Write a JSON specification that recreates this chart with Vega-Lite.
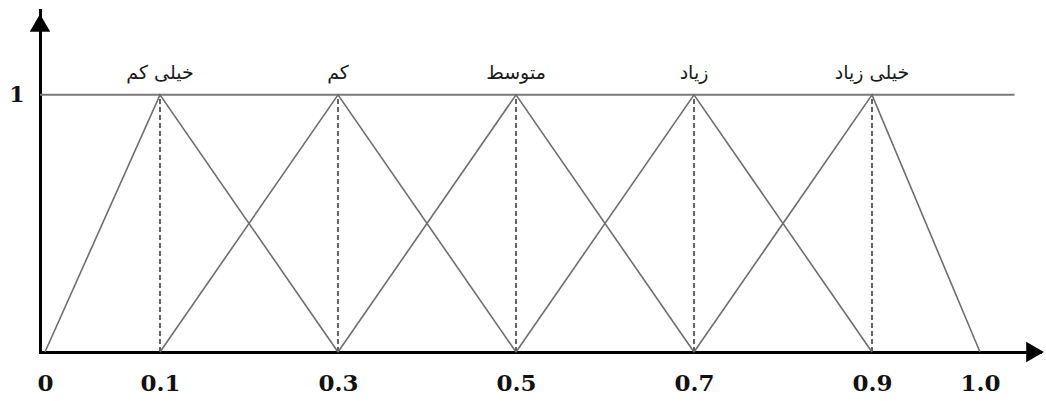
{
  "$schema": "https://vega.github.io/schema/vega-lite/v6.json",
  "width": 1000,
  "height": 342,
  "autosize": {"type": "none"},
  "padding": {"left": 40, "top": 10, "right": 6, "bottom": 49},
  "background": "white",
  "config": {"view": {"stroke": null}},
  "datasets": {
    "tri": [
      {"set": "vl", "x": 0.0, "y": 0}, {"set": "vl", "x": 0.1, "y": 1}, {"set": "vl", "x": 0.3, "y": 0},
      {"set": "l", "x": 0.1, "y": 0}, {"set": "l", "x": 0.3, "y": 1}, {"set": "l", "x": 0.5, "y": 0},
      {"set": "m", "x": 0.3, "y": 0}, {"set": "m", "x": 0.5, "y": 1}, {"set": "m", "x": 0.7, "y": 0},
      {"set": "h", "x": 0.5, "y": 0}, {"set": "h", "x": 0.7, "y": 1}, {"set": "h", "x": 0.9, "y": 0},
      {"set": "vh", "x": 0.7, "y": 0}, {"set": "vh", "x": 0.9, "y": 1}, {"set": "vh", "x": 1.0, "y": 0}
    ],
    "peaks": [
      {"x": 0.1, "label": "خیلی کم"},
      {"x": 0.3, "label": "کم"},
      {"x": 0.5, "label": "متوسط"},
      {"x": 0.7, "label": "زیاد"},
      {"x": 0.9, "label": "خیلی زیاد"}
    ],
    "top": [{"x": -0.0043, "x2": 1.032, "y": 1}],
    "arrows": [
      {"axis": "x", "x": 1.051, "y": 0},
      {"axis": "y", "x": -0.0043, "y": 1.28}
    ]
  },
  "encoding": {
    "x": {
      "type": "quantitative",
      "scale": {"domain": [-0.0043, 0, 0.1, 0.9, 1.0, 1.0556], "range": [0, 5, 120, 832, 940, 1000], "nice": false, "zero": false},
      "axis": {
        "values": [0, 0.1, 0.3, 0.5, 0.7, 0.9, 1.0],
        "labelExpr": "datum.value === 0 ? '0' : format(datum.value, '.1f')",
        "title": null, "grid": false, "ticks": false, "tickSize": 0,
        "domainColor": "#000000", "domainWidth": 3, "domainCap": "square",
        "labelFont": "DejaVu Serif", "labelFontWeight": "bold", "labelFontSize": 23,
        "labelColor": "#111111", "labelPadding": 20, "labelOverlap": false, "labelFlush": false
      }
    },
    "y": {
      "type": "quantitative",
      "scale": {"domain": [0, 1.33], "nice": false, "zero": false},
      "axis": {
        "values": [1], "labelExpr": "'1'",
        "title": null, "grid": false, "ticks": false, "tickSize": 0,
        "domainColor": "#000000", "domainWidth": 3, "domainCap": "square",
        "labelFont": "DejaVu Serif", "labelFontWeight": "bold", "labelFontSize": 22,
        "labelColor": "#111111", "labelPadding": 16
      }
    }
  },
  "layer": [
    {
      "data": {"name": "top"},
      "mark": {"type": "rule", "color": "#7a7a7a", "strokeWidth": 2},
      "encoding": {"x": {"field": "x"}, "x2": {"field": "x2"}, "y": {"field": "y"}}
    },
    {
      "data": {"name": "peaks"},
      "mark": {"type": "rule", "color": "#111111", "strokeWidth": 1.3, "strokeDash": [5, 3]},
      "encoding": {"x": {"field": "x"}, "y": {"datum": 0}, "y2": {"datum": 1}}
    },
    {
      "data": {"name": "tri"},
      "mark": {"type": "line", "color": "#6e6e6e", "strokeWidth": 1.6},
      "encoding": {"x": {"field": "x"}, "y": {"field": "y"}, "detail": {"field": "set"}, "order": {"field": "x"}}
    },
    {
      "data": {"name": "peaks"},
      "mark": {"type": "text", "font": "DejaVu Sans", "fontSize": 19, "color": "#1a1a1a", "baseline": "alphabetic", "align": "center"},
      "encoding": {"x": {"field": "x"}, "y": {"datum": 1.06}, "text": {"field": "label"}}
    },
    {
      "data": {"name": "arrows"},
      "mark": {"type": "point", "filled": true, "color": "#000000", "size": 420, "opacity": 1},
      "encoding": {
        "x": {"field": "x"}, "y": {"field": "y"},
        "shape": {"field": "axis", "scale": {"domain": ["x", "y"], "range": ["triangle-right", "triangle-up"]}, "legend": null}
      }
    }
  ]
}
